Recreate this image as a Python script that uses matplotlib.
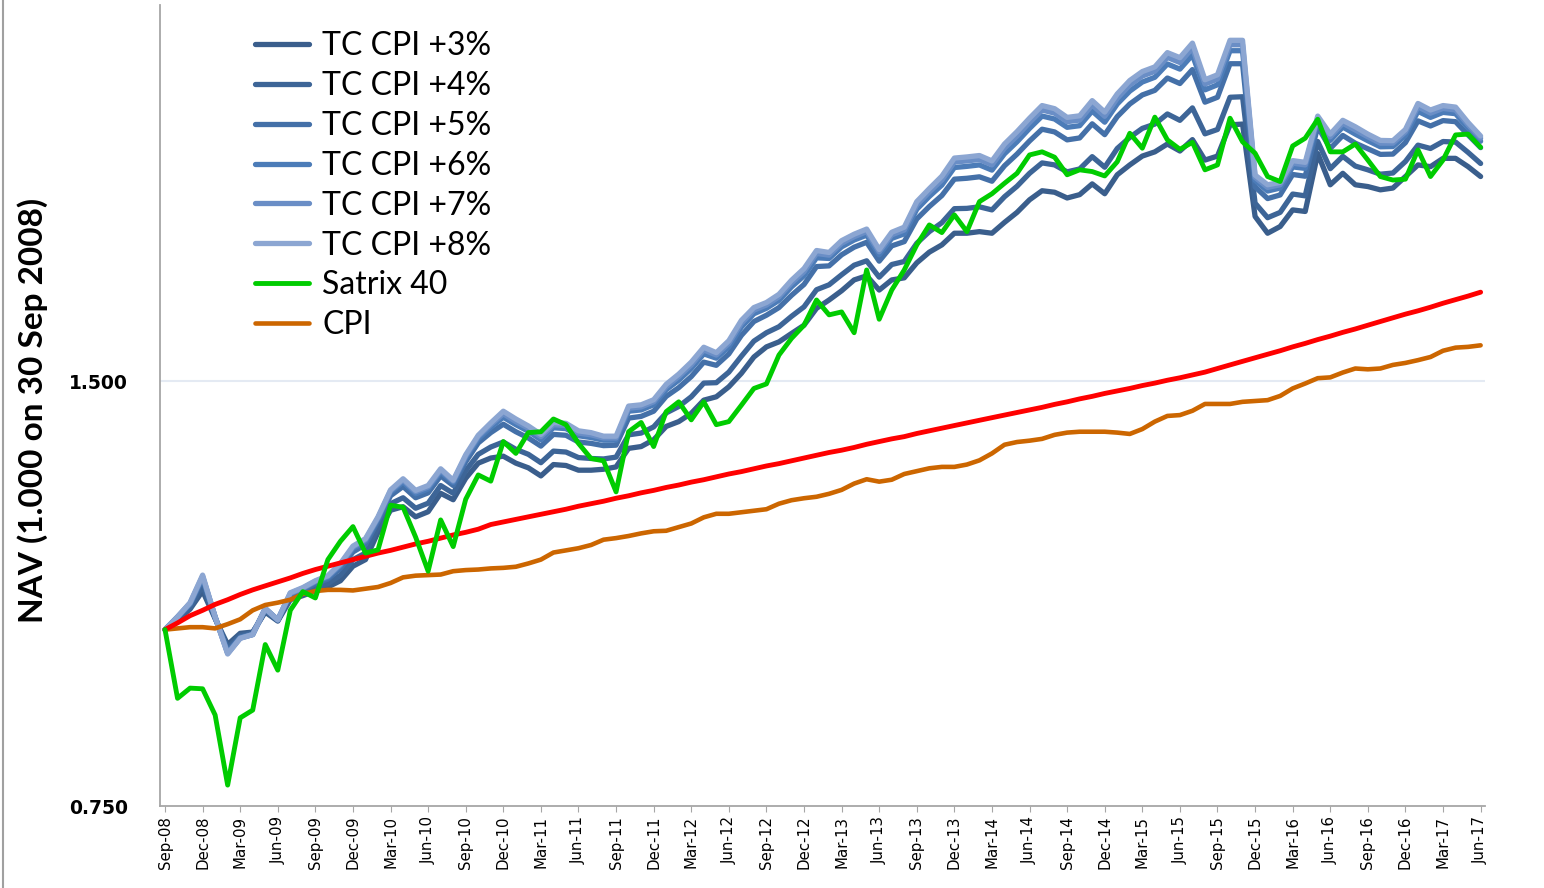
import matplotlib
matplotlib.use("Agg")
import matplotlib.pyplot as plt
import pandas as pd
from matplotlib.lines import Line2D

# month ends, Sep-08 .. Jun-17
months = pd.date_range("2008-09-30", periods=106, freq="ME")
month_labels = [d.strftime("%b-%y") for d in months]

tc_cpi_3 = [
    1.000, 1.016, 1.034, 1.065, 1.018, 0.976, 0.994, 0.996, 1.029, 1.014, 1.050, 1.057,
    1.065, 1.072, 1.083, 1.109, 1.121, 1.172, 1.215, 1.222, 1.202, 1.212, 1.249, 1.236,
    1.280, 1.312, 1.323, 1.327, 1.312, 1.302, 1.285, 1.309, 1.307, 1.297, 1.297, 1.299,
    1.304, 1.344, 1.348, 1.363, 1.393, 1.404, 1.423, 1.454, 1.462, 1.486, 1.519, 1.560,
    1.586, 1.599, 1.621, 1.643, 1.689, 1.712, 1.738, 1.769, 1.781, 1.740, 1.769, 1.775,
    1.819, 1.851, 1.873, 1.909, 1.909, 1.914, 1.909, 1.943, 1.975, 2.016, 2.046, 2.041,
    2.022, 2.033, 2.069, 2.036, 2.100, 2.134, 2.165, 2.180, 2.208, 2.183, 2.224, 2.151,
    2.165, 2.278, 2.281, 1.962, 1.909, 1.930, 1.983, 1.978, 2.174, 2.066, 2.105, 2.066,
    2.060, 2.049, 2.055, 2.094, 2.134, 2.128, 2.157, 2.157, 2.128, 2.094]
tc_cpi_4 = [
    1.000, 1.018, 1.037, 1.074, 1.019, 0.971, 0.991, 0.995, 1.031, 1.015, 1.054, 1.061,
    1.071, 1.078, 1.093, 1.121, 1.133, 1.181, 1.228, 1.240, 1.219, 1.229, 1.265, 1.249,
    1.296, 1.331, 1.347, 1.358, 1.342, 1.331, 1.313, 1.338, 1.336, 1.324, 1.322, 1.321,
    1.325, 1.374, 1.378, 1.392, 1.424, 1.439, 1.462, 1.495, 1.496, 1.522, 1.562, 1.601,
    1.623, 1.639, 1.667, 1.693, 1.741, 1.755, 1.784, 1.812, 1.825, 1.777, 1.814, 1.823,
    1.878, 1.914, 1.942, 1.987, 1.988, 1.993, 1.983, 2.026, 2.061, 2.105, 2.141, 2.134,
    2.110, 2.120, 2.163, 2.126, 2.192, 2.232, 2.265, 2.281, 2.319, 2.295, 2.342, 2.245,
    2.261, 2.383, 2.385, 2.005, 1.958, 1.975, 2.035, 2.029, 2.217, 2.121, 2.164, 2.130,
    2.117, 2.102, 2.106, 2.146, 2.204, 2.192, 2.217, 2.215, 2.178, 2.139]
tc_cpi_5 = [
    1.000, 1.020, 1.042, 1.085, 1.020, 0.966, 0.988, 0.993, 1.034, 1.016, 1.058, 1.067,
    1.078, 1.086, 1.105, 1.135, 1.149, 1.193, 1.244, 1.263, 1.240, 1.250, 1.285, 1.265,
    1.315, 1.356, 1.379, 1.398, 1.381, 1.367, 1.349, 1.375, 1.373, 1.358, 1.355, 1.350,
    1.351, 1.412, 1.416, 1.428, 1.463, 1.484, 1.511, 1.547, 1.539, 1.568, 1.616, 1.653,
    1.670, 1.691, 1.725, 1.756, 1.808, 1.810, 1.843, 1.866, 1.881, 1.824, 1.870, 1.883,
    1.954, 1.994, 2.030, 2.085, 2.088, 2.093, 2.078, 2.131, 2.172, 2.219, 2.262, 2.252,
    2.223, 2.230, 2.282, 2.242, 2.309, 2.357, 2.392, 2.410, 2.459, 2.437, 2.493, 2.364,
    2.383, 2.517, 2.517, 2.059, 2.020, 2.032, 2.101, 2.095, 2.271, 2.192, 2.239, 2.211,
    2.191, 2.171, 2.172, 2.213, 2.293, 2.274, 2.294, 2.290, 2.241, 2.195]
tc_cpi_6 = [
    1.000, 1.021, 1.043, 1.089, 1.021, 0.963, 0.987, 0.992, 1.035, 1.016, 1.060, 1.069,
    1.081, 1.089, 1.110, 1.141, 1.155, 1.198, 1.251, 1.272, 1.248, 1.258, 1.293, 1.271,
    1.323, 1.365, 1.391, 1.414, 1.397, 1.382, 1.363, 1.390, 1.388, 1.372, 1.368, 1.362,
    1.362, 1.428, 1.431, 1.443, 1.479, 1.502, 1.531, 1.568, 1.557, 1.586, 1.638, 1.674,
    1.689, 1.711, 1.749, 1.781, 1.834, 1.832, 1.867, 1.888, 1.903, 1.843, 1.893, 1.907,
    1.985, 2.027, 2.065, 2.125, 2.129, 2.134, 2.116, 2.173, 2.216, 2.265, 2.311, 2.300,
    2.269, 2.275, 2.330, 2.288, 2.357, 2.407, 2.443, 2.462, 2.516, 2.495, 2.553, 2.412,
    2.432, 2.571, 2.571, 2.081, 2.045, 2.055, 2.127, 2.122, 2.293, 2.221, 2.270, 2.244,
    2.220, 2.198, 2.199, 2.239, 2.329, 2.306, 2.325, 2.320, 2.266, 2.218]
tc_cpi_7 = [
    1.000, 1.021, 1.044, 1.091, 1.021, 0.962, 0.986, 0.992, 1.035, 1.016, 1.061, 1.070,
    1.082, 1.091, 1.112, 1.144, 1.158, 1.200, 1.254, 1.276, 1.252, 1.262, 1.297, 1.274,
    1.327, 1.370, 1.397, 1.422, 1.404, 1.389, 1.370, 1.397, 1.395, 1.378, 1.374, 1.367,
    1.367, 1.435, 1.438, 1.450, 1.486, 1.511, 1.540, 1.578, 1.565, 1.595, 1.648, 1.684,
    1.698, 1.721, 1.760, 1.793, 1.847, 1.842, 1.878, 1.898, 1.914, 1.852, 1.904, 1.919,
    1.999, 2.042, 2.082, 2.144, 2.148, 2.153, 2.134, 2.193, 2.237, 2.287, 2.334, 2.322,
    2.290, 2.296, 2.353, 2.310, 2.379, 2.431, 2.467, 2.486, 2.543, 2.522, 2.582, 2.435,
    2.455, 2.596, 2.596, 2.091, 2.057, 2.066, 2.140, 2.134, 2.303, 2.234, 2.284, 2.259,
    2.234, 2.211, 2.211, 2.252, 2.346, 2.322, 2.340, 2.334, 2.278, 2.229]
tc_cpi_8 = [
    1.000, 1.021, 1.045, 1.093, 1.021, 0.961, 0.986, 0.992, 1.035, 1.016, 1.062, 1.071,
    1.083, 1.092, 1.114, 1.146, 1.160, 1.202, 1.256, 1.279, 1.255, 1.265, 1.300, 1.276,
    1.330, 1.373, 1.401, 1.428, 1.410, 1.394, 1.375, 1.402, 1.400, 1.383, 1.379, 1.371,
    1.371, 1.440, 1.443, 1.455, 1.492, 1.517, 1.547, 1.585, 1.571, 1.602, 1.656, 1.691,
    1.705, 1.728, 1.768, 1.802, 1.856, 1.850, 1.886, 1.906, 1.922, 1.859, 1.912, 1.928,
    2.010, 2.053, 2.095, 2.158, 2.162, 2.167, 2.148, 2.208, 2.253, 2.303, 2.351, 2.339,
    2.306, 2.312, 2.370, 2.326, 2.396, 2.449, 2.485, 2.504, 2.563, 2.542, 2.603, 2.452,
    2.472, 2.615, 2.615, 2.099, 2.066, 2.074, 2.149, 2.143, 2.311, 2.244, 2.295, 2.271,
    2.244, 2.221, 2.220, 2.261, 2.359, 2.334, 2.351, 2.345, 2.287, 2.237]
satrix_40 = [
    1.000, 0.894, 0.909, 0.908, 0.870, 0.776, 0.866, 0.877, 0.976, 0.936, 1.032, 1.064,
    1.053, 1.121, 1.155, 1.183, 1.133, 1.139, 1.225, 1.221, 1.163, 1.100, 1.196, 1.145,
    1.237, 1.287, 1.274, 1.359, 1.333, 1.379, 1.381, 1.410, 1.397, 1.355, 1.322, 1.317,
    1.252, 1.381, 1.402, 1.348, 1.427, 1.450, 1.408, 1.450, 1.397, 1.404, 1.442, 1.482,
    1.493, 1.565, 1.608, 1.643, 1.712, 1.671, 1.679, 1.623, 1.798, 1.659, 1.740, 1.798,
    1.873, 1.935, 1.911, 1.967, 1.914, 2.010, 2.036, 2.071, 2.105, 2.169, 2.180, 2.161,
    2.100, 2.117, 2.111, 2.096, 2.145, 2.247, 2.193, 2.307, 2.223, 2.189, 2.214, 2.117,
    2.134, 2.303, 2.216, 2.175, 2.094, 2.077, 2.201, 2.229, 2.299, 2.180, 2.180, 2.208,
    2.151, 2.094, 2.082, 2.085, 2.187, 2.094, 2.151, 2.241, 2.244, 2.196]
cpi = [
    1.000, 1.002, 1.004, 1.004, 1.002, 1.009, 1.017, 1.032, 1.041, 1.045, 1.050, 1.060,
    1.065, 1.067, 1.067, 1.066, 1.069, 1.072, 1.079, 1.089, 1.092, 1.093, 1.094, 1.100,
    1.102, 1.103, 1.105, 1.106, 1.108, 1.114, 1.121, 1.134, 1.138, 1.142, 1.148, 1.158,
    1.161, 1.165, 1.170, 1.174, 1.175, 1.182, 1.189, 1.201, 1.208, 1.208, 1.211, 1.214,
    1.217, 1.228, 1.235, 1.239, 1.242, 1.248, 1.256, 1.269, 1.278, 1.273, 1.277, 1.289,
    1.295, 1.301, 1.304, 1.304, 1.309, 1.318, 1.333, 1.352, 1.358, 1.361, 1.365, 1.374,
    1.379, 1.381, 1.381, 1.381, 1.379, 1.376, 1.387, 1.404, 1.417, 1.419, 1.429, 1.445,
    1.445, 1.445, 1.450, 1.452, 1.454, 1.464, 1.482, 1.494, 1.507, 1.509, 1.521, 1.531,
    1.529, 1.531, 1.540, 1.545, 1.552, 1.560, 1.576, 1.584, 1.586, 1.590]
# red target line (not in the legend)
target = [
    1.000, 1.011, 1.023, 1.032, 1.042, 1.050, 1.059, 1.067, 1.074, 1.081, 1.088, 1.096,
    1.103, 1.109, 1.115, 1.121, 1.127, 1.133, 1.138, 1.144, 1.150, 1.155, 1.161, 1.167,
    1.172, 1.178, 1.187, 1.192, 1.197, 1.202, 1.207, 1.212, 1.217, 1.223, 1.228, 1.233,
    1.239, 1.244, 1.250, 1.255, 1.261, 1.266, 1.272, 1.277, 1.283, 1.289, 1.294, 1.300,
    1.306, 1.311, 1.317, 1.323, 1.329, 1.335, 1.340, 1.346, 1.353, 1.359, 1.365, 1.370,
    1.377, 1.383, 1.389, 1.395, 1.401, 1.407, 1.413, 1.419, 1.425, 1.431, 1.437, 1.444,
    1.450, 1.457, 1.463, 1.470, 1.476, 1.482, 1.489, 1.495, 1.502, 1.508, 1.515, 1.522,
    1.531, 1.540, 1.549, 1.558, 1.567, 1.576, 1.586, 1.595, 1.605, 1.614, 1.624, 1.633,
    1.643, 1.653, 1.663, 1.673, 1.682, 1.692, 1.703, 1.713, 1.723, 1.734]

tc_series = [tc_cpi_3, tc_cpi_4, tc_cpi_5, tc_cpi_6, tc_cpi_7, tc_cpi_8]
tc_names = ["TC CPI +3%", "TC CPI +4%", "TC CPI +5%", "TC CPI +6%", "TC CPI +7%", "TC CPI +8%"]
tc_colors = ["#3a5e8c", "#3d6597", "#4470a8", "#4c7cb8", "#6a8ec6", "#8ca6d2"]

x = list(range(len(months)))

fig = plt.figure(figsize=(15.44, 8.88), dpi=100)
ax = fig.add_axes([160 / 1544, 82 / 888, 1325 / 1544, 801 / 888])

kw = dict(solid_joinstyle="round", solid_capstyle="round")
for vals, name, col in zip(tc_series, tc_names, tc_colors):
    ax.plot(x, vals, color=col, lw=3.8, label=name, zorder=2, **kw)
ax.plot(x, satrix_40, color="#00cc00", lw=3.5, label="Satrix 40", zorder=5, **kw)
ax.plot(x, cpi, color="#cc6600", lw=3.3, label="CPI", zorder=3, **kw)
ax.plot(x, target, color="#ff0000", lw=3.5, label="_nolegend_", zorder=4, **kw)

ax.set_yscale("log", base=2)
ax.set_ylim(0.75, 2.77)
ax.set_yticks([0.75, 1.5])
ax.set_yticklabels(["0.750", "1.500"])
ax.yaxis.set_minor_locator(matplotlib.ticker.NullLocator())
ax.axhline(1.5, color="#e4eaf3", lw=1.5, zorder=0)

ax.set_xlim(-0.4, 105.35)
ax.set_xticks(x[::3])
ax.set_xticklabels(month_labels[::3], rotation=90, fontsize=10.8, family="DejaVu Sans")

for s in ["top", "right"]:
    ax.spines[s].set_visible(False)
for s in ["left", "bottom"]:
    ax.spines[s].set_color("#a6a6a6")
    ax.spines[s].set_linewidth(1.3)

ax.tick_params(axis="y", length=0, pad=23)
ax.tick_params(axis="x", length=4, color="#a6a6a6", pad=3)
for lab in ax.get_yticklabels():
    lab.set_fontweight("bold")
    lab.set_fontsize(13.5)
    lab.set_family("DejaVu Sans")

fig.text(33 / 1544, 1 - 410 / 888, "NAV (1.000 on 30 Sep 2008)", rotation=90,
         ha="center", va="center", fontsize=24, fontweight="bold", family="Lato")

leg = ax.legend(loc="upper left", bbox_to_anchor=(255 / 1544, 1 - 31 / 888),
                bbox_transform=fig.transFigure, frameon=False,
                prop={"family": "Lato", "size": 23}, handlelength=1.7,
                handletextpad=0.4, labelspacing=0.31, borderpad=0, borderaxespad=0)

# outer chart border on the left
fig.add_artist(Line2D([3 / 1544, 3 / 1544], [0, 1], color="#a0a0a0", lw=1.5))

fig.savefig("out.png", dpi=100)
